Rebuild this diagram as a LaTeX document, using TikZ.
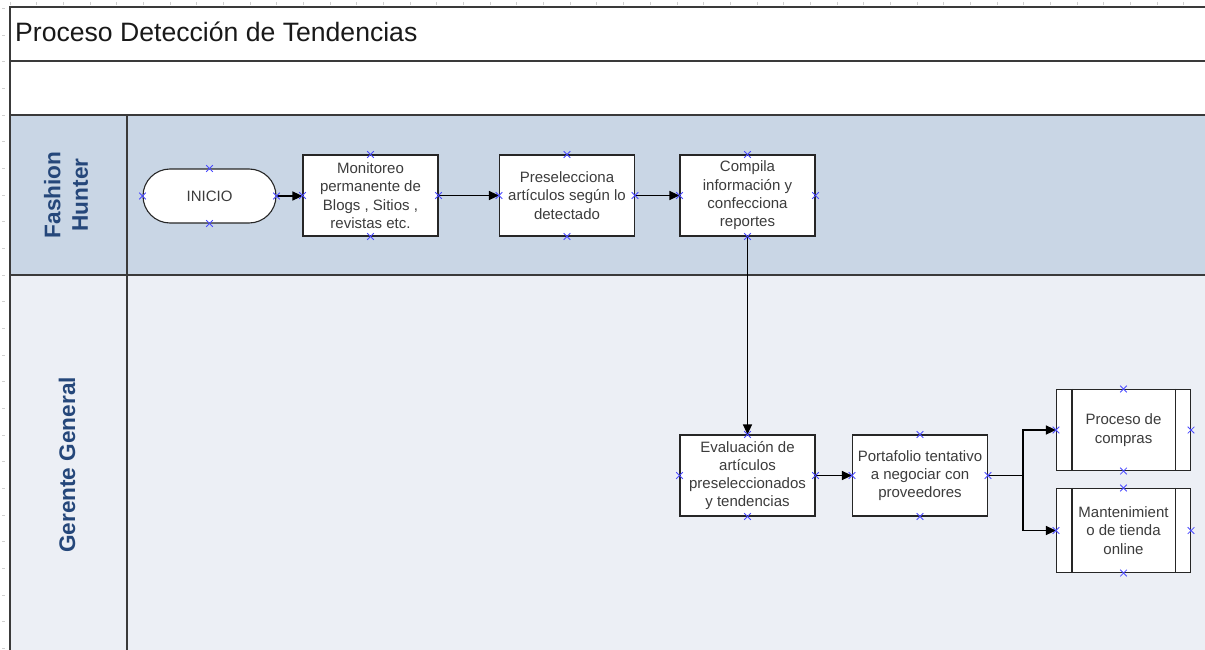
\documentclass[tikz,border=0pt]{standalone}
\usepackage{fontspec}
\setmainfont{Liberation Sans}
\usetikzlibrary{arrows.meta,shapes.misc}
\definecolor{frame}{HTML}{3A3A3A}
\definecolor{laneA}{HTML}{C9D6E5}
\definecolor{laneB}{HTML}{ECEFF5}
\definecolor{lanetxt}{HTML}{25477A}
\definecolor{txt}{HTML}{3C3C3C}
\definecolor{xmark}{HTML}{4A4AFF}
\definecolor{tick}{HTML}{D0D0D0}
\tikzset{
  frameline/.style={draw=frame, line width=1.6pt},
  procbox/.style={draw=black!85, line width=1.1pt, fill=white, rectangle,
    minimum width=135pt, minimum height=81pt, inner sep=1pt, align=center,
    text=txt, font=\fontsize{15}{18.3}\selectfont},
  startbox/.style={procbox, rounded rectangle, minimum height=54pt},
  lanelabel/.style={rotate=90, align=center, text=lanetxt,
    font=\fontsize{22.6}{27.5}\selectfont\bfseries},
  flow/.style={draw=black, line width=1.1pt, -{Triangle[length=10pt,width=9pt]}},
  xm/.style={draw=xmark, line width=0.8pt},
  rulertick/.style={draw=tick, line width=0.5pt}
}
\begin{document}
\begin{tikzpicture}[x=1pt,y=-1pt]
\useasboundingbox (0,0) rectangle (1205,650);
% lanes
\fill[laneA] (10,115) rectangle (1205,275);
\fill[laneB] (10,275) rectangle (1205,650);
% ruler ticks
\foreach \i in {0,...,44} \draw[rulertick] (10+26.67*\i,2) -- ++(0,3);
\foreach \i in {0,...,24} \draw[rulertick] (2,8.3+26.67*\i) -- ++(3,0);
% frame
\draw[frameline] (1205,7) -- (10,7) -- (10,650);
\draw[frameline] (10,61) -- (1205,61);
\draw[frameline] (10,115) -- (1205,115);
\draw[frameline] (10,275) -- (1205,275);
\draw[frameline] (127,115) -- (127,650);
% title
\node[anchor=base west, inner sep=0, text=black!90, font=\fontsize{26.6}{30}\selectfont] (title) at (15,42) {Proceso Detección de Tendencias};
% lane labels
\node[lanelabel] (lane1) at (66,195) {Fashion\\Hunter};
\node[lanelabel] (lane2) at (67,465) {Gerente General};
% nodes
\node[startbox, minimum width=135pt] (inicio) at (209.5,196) {INICIO};
\node[procbox] (mon) at (370.5,195.5) {Monitoreo\\permanente de\\Blogs , Sitios ,\\revistas etc.};
\node[procbox] (pre) at (567,195.5) {Preselecciona\\artículos según lo\\detectado};
\node[procbox] (com) at (747.5,195.5) {Compila\\información y\\confecciona\\reportes};
\node[procbox] (eva) at (747.5,475.5) {Evaluación de\\artículos\\preseleccionados\\y tendencias};
\node[procbox] (por) at (920,475.5) {Portafolio tentativo\\a negociar con\\proveedores};
\node[procbox, minimum width=134pt] (pc) at (1123.5,430) {Proceso de\\compras};
\node[procbox, minimum width=134pt, minimum height=84pt] (mt) at (1123.5,530.5) {Mantenimient\\o de tienda\\online};
\foreach \n in {pc,mt} {
  \draw[draw=black!85, line width=1.1pt] ([xshift=16pt]\n.north west) -- ([xshift=16pt]\n.south west);
  \draw[draw=black!85, line width=1.1pt] ([xshift=-16pt]\n.north east) -- ([xshift=-16pt]\n.south east);
}
% connectors
\draw[flow] (inicio.east) -- (inicio.east -| mon.west);
\draw[flow] (mon.east) -- (pre.west);
\draw[flow] (pre.east) -- (com.west);
\draw[flow] (com.south) -- (eva.north);
\draw[flow] (eva.east) -- (por.west);
\coordinate (br) at (1023,475.5);
\draw[flow] (por.east) -- (br) |- (pc.west);
\draw[flow] (br) |- (mt.west);
% connection marks
\foreach \n in {inicio,mon,pre,com,eva,por,pc,mt}
  \foreach \a in {north,south,east,west} {
    \draw[xm] ([shift={(-3.3,-3.3)}]\n.\a) -- ++(6.6,6.6);
    \draw[xm] ([shift={(-3.3,3.3)}]\n.\a) -- ++(6.6,-6.6);
  }
\end{tikzpicture}
\end{document}
